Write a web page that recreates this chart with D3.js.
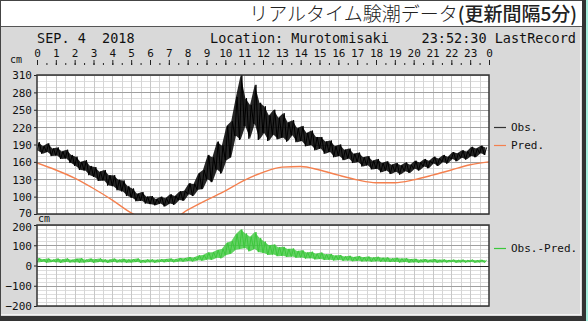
<!DOCTYPE html>
<html>
<head>
<meta charset="utf-8">
<script src="https://cdn.jsdelivr.net/npm/d3@7"></script>
<style>
  html, body { margin: 0; padding: 0; background: #d9d9d9; }
  svg { display: block; }
  .mono { font-family: "DejaVu Sans Mono", "Liberation Mono", monospace; fill: #111; }
  .axis text { font-family: "DejaVu Sans Mono", monospace; fill: #111; }
  .axis path.domain { display: none; }
</style>
</head>
<body>
<svg id="chart" width="588" height="321"></svg>
<script>
// hours covered by the record
const hourTicks = d3.range(0, 25);
const halfHourTicks = d3.range(0.5, 24, 0.5);
const levelTicks = [70, 100, 130, 160, 190, 220, 250, 280, 310];
const diffTicks = [-200, -100, 0, 100, 200];

// observed level, low / high of each 15-minute slot (cm)
const obsLo = [
  179, 174, 177, 170, 171, 165, 166, 158, 153, 146, 145, 137, 134, 127, 128, 119,
  118, 111, 109, 101, 98, 92, 93, 88, 87, 85, 88, 83, 88, 86, 94, 93,
  104, 101, 112, 113, 130, 125, 147, 140, 163, 168, 205, 198, 222, 200, 226, 198,
  210, 196, 207, 199, 202, 195, 206, 194, 196, 187, 189, 180, 183, 174, 177, 168,
  170, 163, 166, 158, 160, 152, 154, 147, 148, 142, 145, 139, 143, 138, 144, 141,
  148, 145, 152, 149, 157, 153, 160, 157, 165, 161, 167, 164, 170, 168, 175, 172
];
const obsHi = [
  194, 187, 192, 183, 185, 178, 181, 172, 169, 160, 163, 153, 151, 143, 146, 137,
  137, 129, 128, 118, 114, 105, 108, 100, 101, 96, 100, 97, 104, 101, 109, 110,
  123, 122, 140, 146, 172, 168, 195, 188, 222, 230, 272, 310, 270, 258, 293, 262,
  256, 240, 250, 236, 244, 228, 232, 218, 222, 210, 214, 203, 203, 195, 197, 187,
  190, 181, 183, 174, 176, 168, 170, 162, 165, 158, 161, 155, 158, 154, 159, 155,
  162, 159, 165, 162, 169, 166, 172, 169, 177, 175, 180, 178, 186, 183, 188, 185
];

// predicted tide, hourly (cm)
const predLevel = [
  158, 146, 132, 114, 94, 72, 58, 58, 77, 94, 110, 128, 142,
  151, 152, 146, 137, 129, 124, 124, 129, 137, 146, 155, 160
];

// observed minus predicted, low / high of each 15-minute slot (cm)
const diffLo = [
  15, 18, 14, 17, 16, 13, 17, 15, 16, 14, 15, 17, 14, 17, 16, 13,
  17, 15, 16, 14, 15, 17, 13, 15, 16, 14, 17, 16, 18, 16, 20, 19,
  22, 20, 26, 24, 30, 28, 38, 36, 52, 58, 78, 82, 86, 70, 82, 66,
  62, 52, 54, 46, 48, 42, 44, 38, 40, 34, 36, 30, 32, 27, 29, 25,
  27, 23, 25, 21, 23, 20, 21, 19, 21, 18, 19, 17, 18, 15, 17, 14,
  16, 14, 16, 15, 16, 14, 16, 15, 17, 14, 16, 15, 17, 14, 16, 15
];
const diffHi = [
  37, 31, 35, 29, 34, 30, 35, 28, 33, 36, 29, 34, 31, 35, 30, 29,
  34, 29, 33, 30, 31, 35, 27, 30, 30, 28, 31, 32, 34, 31, 37, 36,
  42, 39, 50, 52, 64, 66, 76, 82, 112, 120, 155, 178, 158, 142, 165, 136,
  118, 100, 104, 90, 92, 82, 84, 72, 75, 64, 68, 58, 64, 55, 57, 49,
  52, 45, 48, 42, 47, 41, 44, 39, 43, 38, 40, 35, 38, 34, 36, 32,
  33, 29, 32, 28, 32, 28, 30, 27, 29, 27, 29, 26, 29, 26, 28, 26
];

const svg = d3.select("#chart");
const W = 588, H = 321;

// frame and title bar
svg.append("rect").attr("x", 0).attr("y", 0).attr("width", W).attr("height", H).attr("fill", "#d9d9d9");
svg.append("rect").attr("x", 1).attr("y", 1).attr("width", 581).attr("height", 25).attr("fill", "#fff");
svg.append("line").attr("x1", 1).attr("x2", 582).attr("y1", 26.5).attr("y2", 26.5).attr("stroke", "#555");
svg.append("rect").attr("x", 0).attr("y", 0).attr("width", W).attr("height", 1).attr("fill", "#444");
svg.append("rect").attr("x", 0).attr("y", 0).attr("width", 1).attr("height", H).attr("fill", "#444");
svg.append("rect").attr("x", 580).attr("y", 27).attr("width", 1).attr("height", 288).attr("fill", "#f2f2f2");
svg.append("rect").attr("x", 1).attr("y", 314).attr("width", 580).attr("height", 1).attr("fill", "#f2f2f2");
svg.append("rect").attr("x", 582).attr("y", 0).attr("width", 4).attr("height", H).attr("fill", "#333");
svg.append("rect").attr("x", 0).attr("y", 316).attr("width", 586).attr("height", 5).attr("fill", "#333");
svg.append("rect").attr("x", 586).attr("y", 0).attr("width", 2).attr("height", H).attr("fill", "#a8f0e0");

const title = svg.append("text")
  .attr("x", 577).attr("y", 21)
  .attr("text-anchor", "end")
  .attr("font-family", "'Noto Sans CJK JP', sans-serif")
  .attr("font-size", 19)
  .attr("fill", "#222");
title.append("tspan").attr("font-weight", 300).text("リアルタイム験潮データ");
title.append("tspan").attr("font-weight", 500).text("(更新間隔5分)");

svg.append("text").attr("class", "mono").attr("x", 37).attr("y", 43).attr("font-size", 13.5)
  .attr("xml:space", "preserve").style("white-space", "pre").text("SEP. 4  2018");
svg.append("text").attr("class", "mono").attr("x", 210).attr("y", 43).attr("font-size", 13.5)
  .text("Location: Murotomisaki");
svg.append("text").attr("class", "mono").attr("x", 576).attr("y", 43).attr("font-size", 13.5)
  .attr("text-anchor", "end").text("23:52:30 LastRecord");

// scales
const x = d3.scaleLinear().domain([0, 24]).range([37, 489]);
const y1 = d3.scaleLinear().domain([70, 310]).range([214, 75]);
const y2 = d3.scaleLinear().domain([-200, 200]).range([306, 225]);

// top hour axis
const hourAxis = svg.append("g").attr("class", "axis").attr("transform", "translate(0,65)")
  .call(d3.axisTop(x).tickValues(hourTicks).tickSize(5).tickPadding(3).tickFormat(d => d % 24));
hourAxis.selectAll("text").attr("font-size", 11);
hourAxis.selectAll("line").attr("stroke", "#222");
svg.append("g").attr("class", "axis").attr("transform", "translate(0,65)")
  .call(d3.axisTop(x).tickValues(halfHourTicks).tickSize(2).tickFormat(""))
  .selectAll("line").attr("stroke", "#222");

svg.append("text").attr("class", "mono").attr("x", 10).attr("y", 63).attr("font-size", 10).text("cm");
svg.append("text").attr("class", "mono").attr("x", 38).attr("y", 222).attr("font-size", 10).text("cm");

function panel(yScale, minorStep, majorTicks, zeroLine, clipId) {
  const [d0, d1] = yScale.domain();
  const g = svg.append("g");
  g.append("rect")
    .attr("x", x(0)).attr("y", yScale(d1))
    .attr("width", x(24) - x(0)).attr("height", yScale(d0) - yScale(d1))
    .attr("fill", "#fff");
  g.selectAll(".hminor").data(d3.range(d0, d1, minorStep)).join("line")
    .attr("x1", x(0)).attr("x2", x(24))
    .attr("y1", d => Math.round(yScale(d)) + 0.5).attr("y2", d => Math.round(yScale(d)) + 0.5)
    .attr("stroke", "#dedede");
  g.selectAll(".vgrid").data(halfHourTicks).join("line")
    .attr("x1", d => Math.round(x(d)) + 0.5).attr("x2", d => Math.round(x(d)) + 0.5)
    .attr("y1", yScale(d1)).attr("y2", yScale(d0))
    .attr("stroke", d => (d % 1 === 0 ? "#c8c8c8" : "#d6d6d6"));
  g.selectAll(".hmajor").data(majorTicks).join("line")
    .attr("x1", x(0)).attr("x2", x(24))
    .attr("y1", d => Math.round(yScale(d)) + 0.5).attr("y2", d => Math.round(yScale(d)) + 0.5)
    .attr("stroke", d => (zeroLine && d === 0 ? "#222" : "#a0a0a0"));
  svg.append("clipPath").attr("id", clipId).append("rect")
    .attr("x", x(0)).attr("y", yScale(d1))
    .attr("width", x(24) - x(0)).attr("height", yScale(d0) - yScale(d1));
  const ax = svg.append("g").attr("class", "axis").attr("transform", `translate(${x(0)},0)`)
    .call(d3.axisLeft(yScale).tickValues(majorTicks).tickSize(3).tickPadding(2));
  ax.selectAll("text").attr("font-size", 11).attr("dy", "0.36em");
  ax.selectAll("line").attr("stroke", "#222");
  return ax;
}

panel(y1, 10, levelTicks, false, "clip1")
  .selectAll("text").filter(d => d === 70).attr("dy", "0.2em");
panel(y2, 20, diffTicks, true, "clip2")
  .selectAll("text").filter(d => d === 200).attr("dy", "0.5em");

// each 15-minute slot is drawn from its low to its high and back
function zigzag(lo, hi) {
  const pts = [];
  lo.forEach((v, i) => {
    pts.push([i * 0.25, v]);
    pts.push([i * 0.25 + 0.125, hi[i]]);
  });
  return pts;
}

function drawNoisy(yScale, lo, hi, color, clipId, fillOpacity) {
  const data = lo.map((v, i) => ({ t: i * 0.25 + 0.0625, lo: v, hi: hi[i] }));
  svg.append("path")
    .attr("clip-path", `url(#${clipId})`)
    .attr("d", d3.area().x(d => x(d.t)).y0(d => yScale(d.lo)).y1(d => yScale(d.hi))(data))
    .attr("fill", color).attr("fill-opacity", fillOpacity);
  svg.append("path")
    .attr("clip-path", `url(#${clipId})`)
    .attr("d", d3.line().x(d => x(d[0])).y(d => yScale(d[1]))(zigzag(lo, hi)))
    .attr("fill", "none").attr("stroke", color).attr("stroke-width", 1);
}

svg.append("path")
  .attr("clip-path", "url(#clip1)")
  .attr("d", d3.line().x((d, i) => x(i)).y(d => y1(d)).curve(d3.curveMonotoneX)(predLevel))
  .attr("fill", "none").attr("stroke", "#f4804f").attr("stroke-width", 1.4);

drawNoisy(y1, obsLo, obsHi, "#000", "clip1", 0.85);
drawNoisy(y2, diffLo, diffHi, "#3cc83c", "clip2", 0.8);

// panel borders on top
[y1, y2].forEach(ys => {
  const [d0, d1] = ys.domain();
  svg.append("rect")
    .attr("x", x(0)).attr("y", ys(d1))
    .attr("width", x(24) - x(0)).attr("height", ys(d0) - ys(d1))
    .attr("fill", "none").attr("stroke", "#333").attr("stroke-width", 1.5);
});

// legends
const legend = [
  { label: "Obs.", color: "#333", y: 127 },
  { label: "Pred.", color: "#f4804f", y: 145 },
  { label: "Obs.-Pred.", color: "#3cc83c", y: 248 }
];
const lg = svg.selectAll(".lg").data(legend).join("g");
lg.append("line").attr("x1", 494).attr("x2", 506)
  .attr("y1", d => d.y + 0.5).attr("y2", d => d.y + 0.5)
  .attr("stroke", d => d.color).attr("stroke-width", 1.2);
lg.append("text").attr("class", "mono").attr("x", 511).attr("y", d => d.y + 4)
  .attr("font-size", 11).text(d => d.label);
</script>
</body>
</html>
